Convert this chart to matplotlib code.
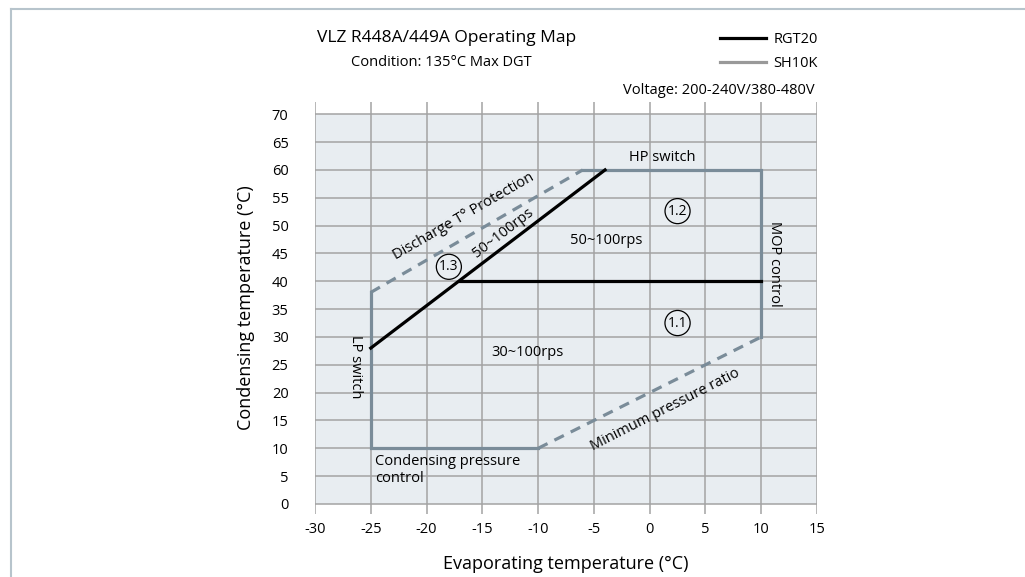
import matplotlib
matplotlib.use("Agg")
import matplotlib.pyplot as plt
from matplotlib.lines import Line2D
from matplotlib.patches import Rectangle

plt.rcParams['font.family'] = ['Open Sans', 'DejaVu Sans']
plt.rcParams['axes.unicode_minus'] = False

# axis ticks
x_ticks = [-30, -25, -20, -15, -10, -5, 0, 5, 10, 15]
y_ticks = [0, 5, 10, 15, 20, 25, 30, 35, 40, 45, 50, 55, 60, 65, 70]

# SH10K envelope (gray)
lp_x = [-25, -25, -10]
lp_y = [38, 10, 10]
hp_x = [-6, 10, 10]
hp_y = [60, 60, 30]
dgt_x = [-25, -6]
dgt_y = [38, 60]
mpr_x = [-10, 10]
mpr_y = [10, 30]

# RGT20 lines (black)
rgt_x = [-25, -4]
rgt_y = [28, 60]
rgt_h_x = [-17, 10]
rgt_h_y = [40, 40]

fill_c = '#e8edf1'
grid_c = '#a3a3a3'
env_c = '#7a8c99'

fig = plt.figure(figsize=(10.25, 5.77), dpi=100)
ax = fig.add_axes([315 / 1025, 1 - 514 / 577, (817 - 315) / 1025, (514 - 102) / 577])
ax.set_xlim(-30, 15)
ax.set_ylim(-1.8, 72.2)
for s in ax.spines.values():
    s.set_visible(False)

ax.add_patch(Rectangle((-30, 0), 45, 70, facecolor=fill_c, edgecolor='none', zorder=0))
for yv in y_ticks:
    ax.plot([-30, 15], [yv, yv], color=grid_c, lw=1.1, zorder=1)
for xv in x_ticks:
    ax.plot([xv, xv], [-1.8, 72.2], color=grid_c, lw=1.1, zorder=1)

ax.set_xticks(x_ticks)
ax.set_yticks(y_ticks)
ax.tick_params(length=0, labelsize=10.5, pad=6)
ax.tick_params(axis='y', pad=19)

# envelope
lw = 2.3
ax.plot(lp_x, lp_y, color=env_c, lw=lw, zorder=3, solid_joinstyle='miter')
ax.plot(hp_x, hp_y, color=env_c, lw=lw, zorder=3, solid_joinstyle='miter')
ax.plot(dgt_x, dgt_y, color=env_c, lw=lw, ls=(0, (3.3, 2.4)), zorder=3)
ax.plot(mpr_x, mpr_y, color=env_c, lw=lw, ls=(0, (3.3, 2.4)), zorder=3)
ax.plot(rgt_x, rgt_y, color='black', lw=2.3, zorder=4)
ax.plot(rgt_h_x, rgt_h_y, color='black', lw=2.3, zorder=4)

ax.set_xlabel('Evaporating temperature (°C)', fontsize=13, labelpad=13)
ax.set_ylabel('Condensing temperature (°C)', fontsize=13, labelpad=12)

# annotations
fs = 10.5
ax.text(-26.4, 24.6, 'LP switch', rotation=-90, ha='center', va='center', fontsize=fs)
ax.text(-24.6, 9.0, 'Condensing pressure\ncontrol', ha='left', va='top', fontsize=fs, linespacing=1.15)
ax.text(-11, 27.2, '30~100rps', ha='center', va='center', fontsize=fs)
ax.text(-3.9, 47.4, '50~100rps', ha='center', va='center', fontsize=fs)
ax.text(-13.1, 48.6, '50~100rps', rotation=37.5, ha='center', va='center', fontsize=fs)
ax.text(-16.7, 51.6, 'Discharge T° Protection', rotation=30, ha='center', va='center', fontsize=fs)
ax.text(1.4, 17.0, 'Minimum pressure ratio', rotation=27, ha='center', va='center', fontsize=fs)
ax.text(1.15, 62.3, 'HP switch', ha='center', va='center', fontsize=fs)
ax.text(11.2, 43.2, 'MOP control', rotation=-90, ha='center', va='center', fontsize=fs)

circ = dict(boxstyle='circle,pad=0.2', facecolor='none', edgecolor='black', lw=0.9)
for cx, cy, lab in [(2.5, 32.5, '1.1'), (2.5, 52.6, '1.2'), (-18.0, 42.6, '1.3')]:
    ax.text(cx, cy, lab, ha='center', va='center', fontsize=10, bbox=circ, zorder=5)

# titles
fig.text(447 / 1025, 1 - 38 / 577, 'VLZ R448A/449A Operating Map', ha='center', va='center', fontsize=12.5)
fig.text(441 / 1025, 1 - 62 / 577, 'Condition: 135°C Max DGT', ha='center', va='center', fontsize=10.5)
fig.text(815 / 1025, 1 - 91 / 577, 'Voltage: 200-240V/380-480V', ha='right', va='center', fontsize=10.5)

handles = [Line2D([], [], color='black', lw=2.3), Line2D([], [], color='#999999', lw=2.3)]
fig.legend(handles, ['RGT20', 'SH10K'], loc='upper right', frameon=False,
           bbox_to_anchor=(818 / 1025, 1 - 32 / 577), borderaxespad=0, borderpad=0,
           fontsize=10.5, handlelength=3.2, handletextpad=0.5, labelspacing=0.62)

# page frame (left and top)
fig.add_artist(Line2D([11 / 1025, 11 / 1025], [0, 1 - 9 / 577], color='#b7c4cc', lw=1.5))
fig.add_artist(Line2D([11 / 1025, 1], [1 - 9 / 577, 1 - 9 / 577], color='#b7c4cc', lw=1.5))

fig.savefig('out.png', dpi=100)
